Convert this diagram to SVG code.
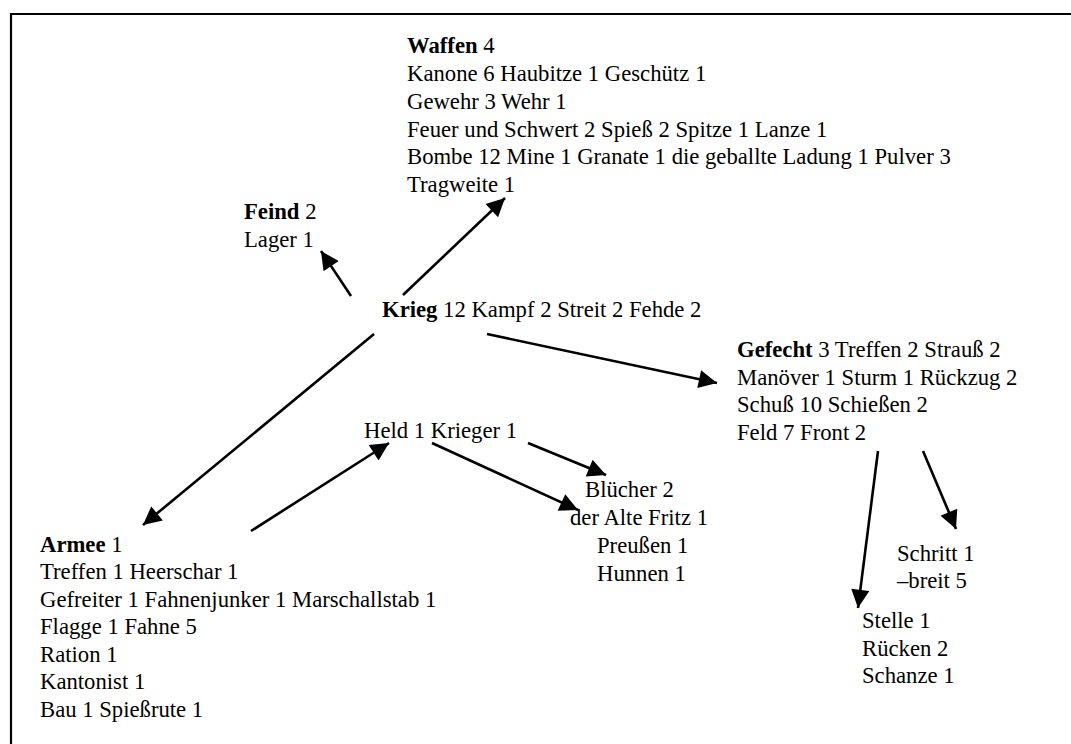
<svg xmlns="http://www.w3.org/2000/svg" width="1071" height="744" viewBox="0 0 1071 744">
<defs>
<style>
text{font-family:"Liberation Serif","Times New Roman",serif;font-size:22.7px;fill:#000}
.b{font-weight:bold}
.c{stroke:#000;stroke-width:2.6;fill:none;marker-end:url(#ah)}
</style>
<marker id="ah" viewBox="0 0 10 10" refX="10" refY="5" markerWidth="8" markerHeight="7" markerUnits="strokeWidth" orient="auto">
<path d="M0,0 L10,5 L0,10 z" fill="#000"/>
</marker>
</defs>
<rect width="1071" height="744" fill="#fff"/>
<path d="M11,744 V14 H1071" stroke="#000" stroke-width="2.2" fill="none"/>
<g id="connectors">
<line class="c" x1="351" y1="296" x2="321" y2="251"/>
<line class="c" x1="403" y1="295" x2="505" y2="198"/>
<line class="c" x1="374" y1="334" x2="143" y2="525"/>
<line class="c" x1="487" y1="334" x2="717" y2="383"/>
<line class="c" x1="251" y1="531" x2="389" y2="443"/>
<line class="c" x1="432" y1="443" x2="578" y2="510"/>
<line class="c" x1="528" y1="443" x2="606" y2="475"/>
<line class="c" x1="878" y1="451" x2="858" y2="608"/>
<line class="c" x1="923" y1="451" x2="956" y2="529"/>
</g>
<g id="waffen" font-family="Liberation Serif, serif">
<text x="407" y="53"><tspan class="b">Waffen</tspan> 4</text>
<text x="407" y="81">Kanone 6 Haubitze 1 Geschütz 1</text>
<text x="407" y="109">Gewehr 3 Wehr 1</text>
<text x="407" y="137">Feuer und Schwert 2 Spieß 2 Spitze 1 Lanze 1</text>
<text x="407" y="164">Bombe 12 Mine 1 Granate 1 die geballte Ladung 1 Pulver 3</text>
<text x="407" y="192">Tragweite 1</text>
</g>
<g id="feind">
<text x="244" y="219"><tspan class="b">Feind</tspan> 2</text>
<text x="244" y="247">Lager 1</text>
</g>
<g id="krieg">
<text x="382" y="317"><tspan class="b">Krieg</tspan> 12 Kampf 2 Streit 2 Fehde 2</text>
</g>
<g id="gefecht">
<text x="737" y="357"><tspan class="b">Gefecht</tspan> 3 Treffen 2 Strauß 2</text>
<text x="737" y="385">Manöver 1 Sturm 1 Rückzug 2</text>
<text x="737" y="412">Schuß 10 Schießen 2</text>
<text x="737" y="440">Feld 7 Front 2</text>
</g>
<g id="held">
<text x="364" y="438">Held 1 Krieger 1</text>
</g>
<g id="bluecher">
<text x="585" y="497">Blücher 2</text>
<text x="570" y="525">der Alte Fritz 1</text>
<text x="597" y="553">Preußen 1</text>
<text x="597" y="581">Hunnen 1</text>
</g>
<g id="armee">
<text x="40" y="552"><tspan class="b">Armee</tspan> 1</text>
<text x="40" y="579">Treffen 1 Heerschar 1</text>
<text x="40" y="607">Gefreiter 1 Fahnenjunker 1 Marschallstab 1</text>
<text x="40" y="634">Flagge 1 Fahne 5</text>
<text x="40" y="662">Ration 1</text>
<text x="40" y="689">Kantonist 1</text>
<text x="40" y="717">Bau 1 Spießrute 1</text>
</g>
<g id="schritt">
<text x="897" y="561">Schritt 1</text>
<text x="897" y="588">–breit 5</text>
</g>
<g id="stelle">
<text x="862" y="628">Stelle 1</text>
<text x="862" y="656">Rücken 2</text>
<text x="862" y="683">Schanze 1</text>
</g>
</svg>
